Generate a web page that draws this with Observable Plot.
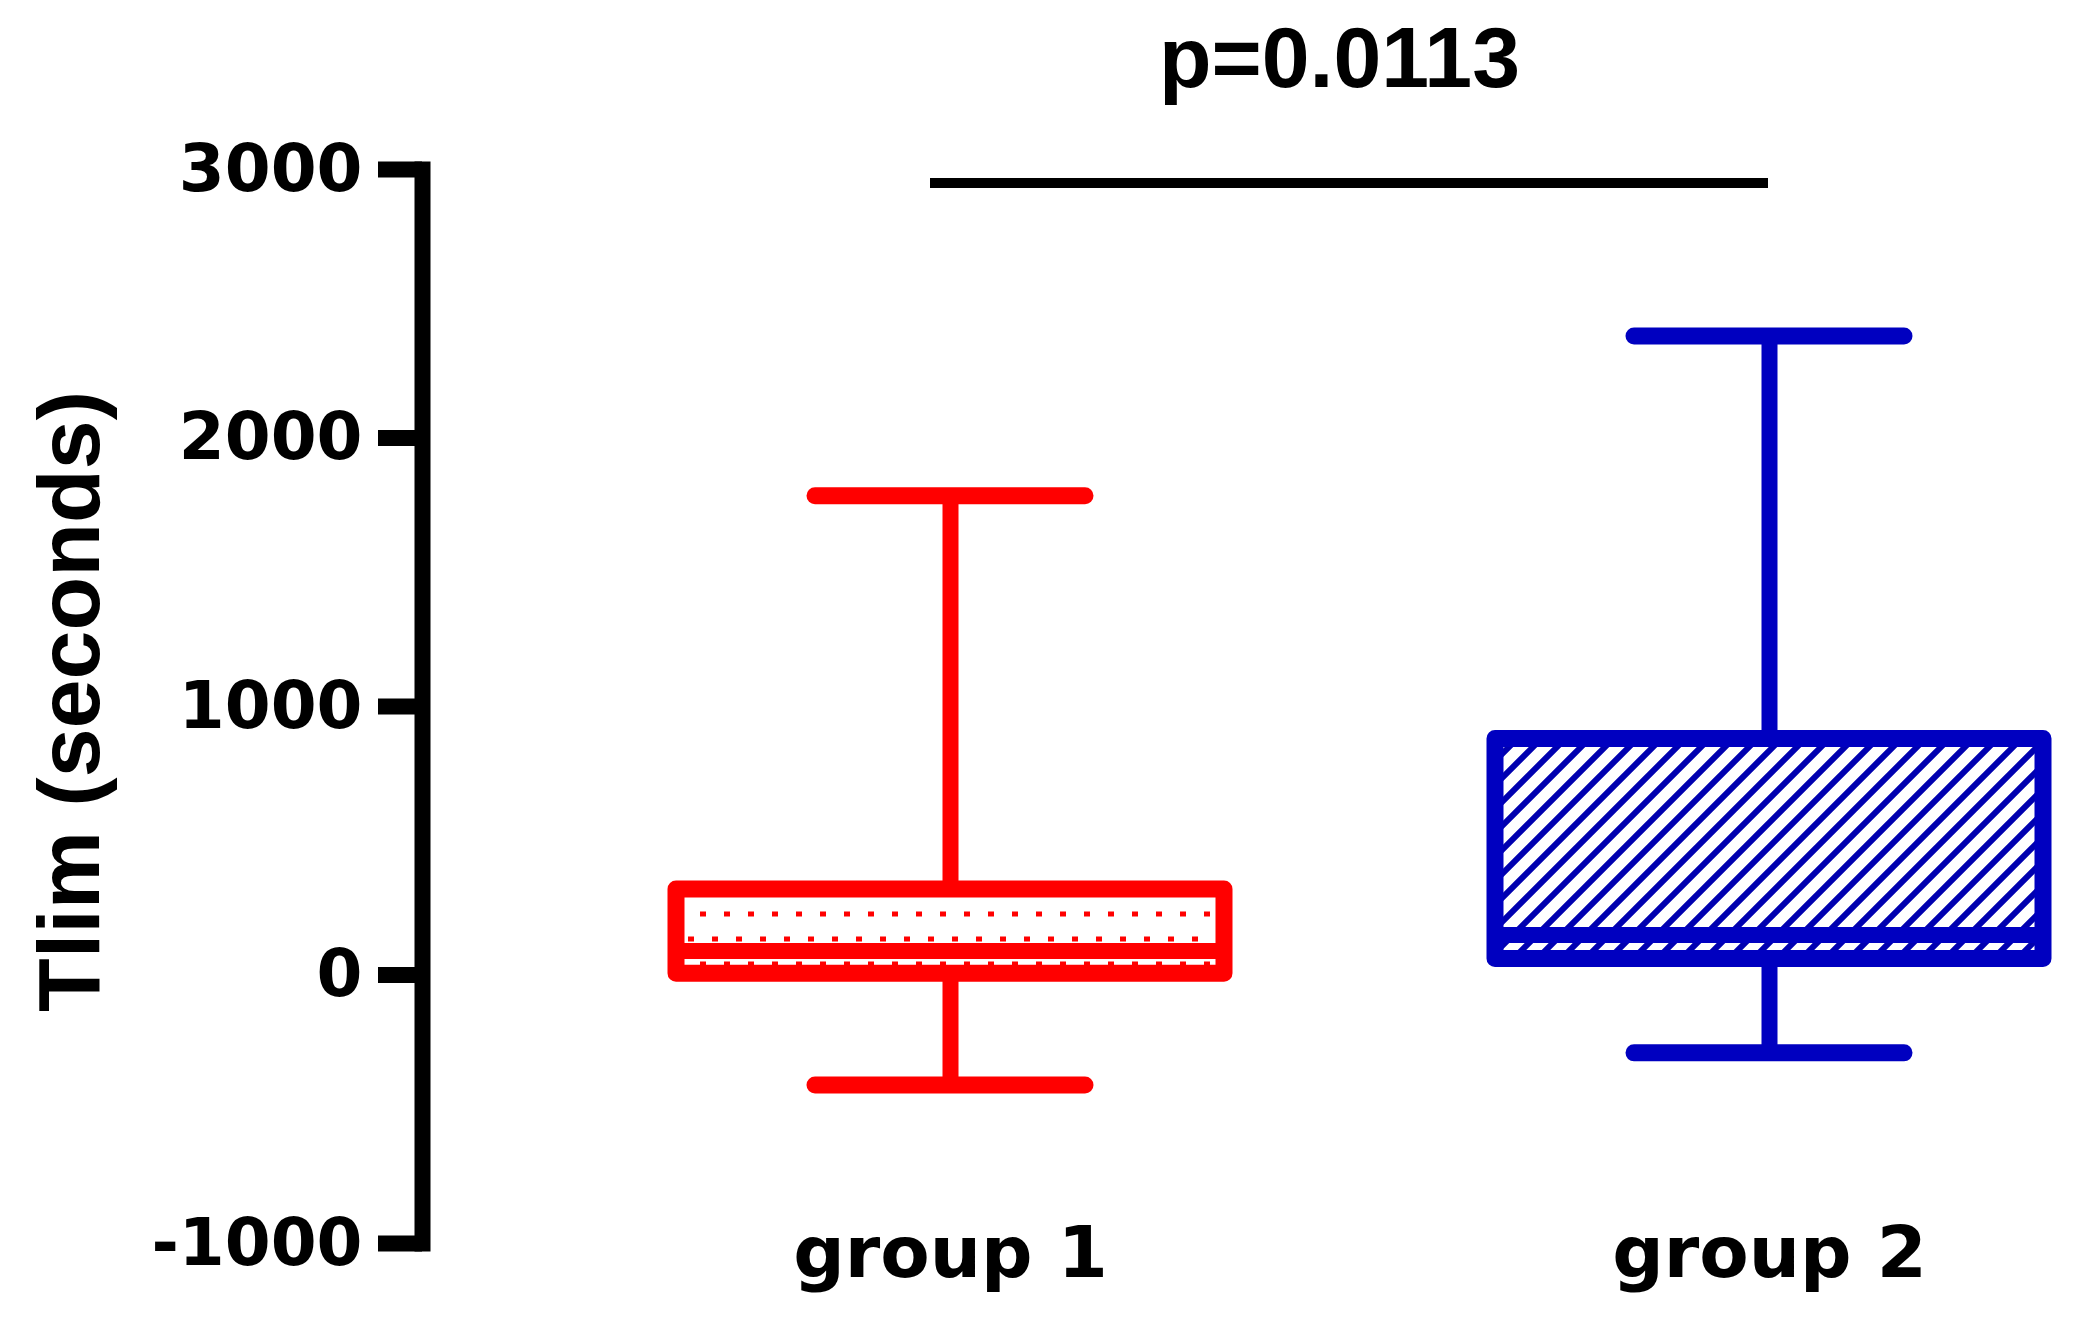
<!DOCTYPE html>
<html>
<head>
<meta charset="utf-8">
<script src="https://cdn.jsdelivr.net/npm/d3@7"></script>
<script src="https://cdn.jsdelivr.net/npm/@observablehq/plot@0.6"></script>
<style>
  html, body { margin: 0; padding: 0; background: #fff; overflow: hidden; }
  svg { display: block; }
</style>
</head>
<body>
<div id="chart"></div>
<script>
// ---- data ----
const groups = ["group 1", "group 2"];
const whiskerLow = [-410, -290];
const q1 = [5, 60];
const median = [89, 149];
const q3 = [318, 879];
const whiskerHigh = [1785, 2380];
const yTicks = [-1000, 0, 1000, 2000, 3000];
const yLabel = "Tlim (seconds)";
const pLabel = "p=0.0113";
const sigLevel = 2950;

// ---- tables built from the arrays ----
const table = groups.map((g, i) => ({
  group: g, lo: whiskerLow[i], q1: q1[i], med: median[i], q3: q3[i], hi: whiskerHigh[i]
}));
const sig = [{from: groups[0], to: groups[1], y: sigLevel, label: pLabel}];

const red = "#ff0000", blue = "#0000c0";

const chart = Plot.plot({
  width: 2084,
  height: 1325,
  marginLeft: 422,
  marginRight: 0,
  marginTop: 169,
  marginBottom: 82,
  style: {background: "white", fontFamily: "DejaVu Sans", color: "black"},
  x: {domain: groups, paddingInner: 0.331, paddingOuter: 0.18, align: 0.861},
  y: {domain: [-1000, 3000]},
  color: {domain: groups, range: [red, blue]},
  marks: [
    Plot.frame({anchor: "left", strokeWidth: 16, strokeLinecap: "square"}),
    Plot.axisY({
      ticks: yTicks, tickFormat: d => String(d), tickSize: 44, tickPadding: 16,
      strokeWidth: 16, fontSize: 66, fontWeight: "bold", fontFamily: "DejaVu Sans", label: null
    }),
    Plot.axisX({
      tickSize: 0, tickPadding: -18, fontSize: 72, fontWeight: "bold",
      fontFamily: "DejaVu Sans", label: null
    }),
    // whisker stems
    Plot.ruleX(table, {x: "group", y1: "lo", y2: "hi", stroke: "group", strokeWidth: 16}),
    // whisker caps
    Plot.tickY(table, {x: "group", y: "lo", stroke: "group", strokeWidth: 17, strokeLinecap: "round", insetLeft: 139, insetRight: 139}),
    Plot.tickY(table, {x: "group", y: "hi", stroke: "group", strokeWidth: 17, strokeLinecap: "round", insetLeft: 139, insetRight: 139}),
    // boxes
    Plot.barY(table.filter(d => d.group === groups[0]), {
      x: "group", y1: "q1", y2: "q3", fill: "url(#dots)", stroke: "group",
      strokeWidth: 17, strokeLinejoin: "round"
    }),
    Plot.barY(table.filter(d => d.group === groups[1]), {
      x: "group", y1: "q1", y2: "q3", fill: "url(#hatch)", stroke: "group",
      strokeWidth: 17, strokeLinejoin: "round"
    }),
    // medians
    Plot.tickY(table, {x: "group", y: "med", stroke: "group", strokeWidth: 16}),
    // significance bar
    Plot.ruleY(sig, {y: "y", x1: "from", x2: "to", stroke: "black", strokeWidth: 10, insetLeft: 254, insetRight: 275}),
    Plot.text(sig, {
      text: "label", frameAnchor: "top", textAnchor: "middle", dx: 86, dy: -144, fontSize: 86,
      fontWeight: "bold", fontFamily: "Liberation Sans", fill: "black"
    }),
    // y label
    Plot.text([yLabel], {
      text: d => d, frameAnchor: "left", textAnchor: "middle", lineAnchor: "middle",
      rotate: -90, dx: -352, dy: -5, fontSize: 88,
      fontWeight: "bold", fontFamily: "Liberation Sans", fill: "black"
    })
  ]
});

// pattern fills
const defs = d3.select(chart).insert("defs", ":first-child");
const dots = defs.append("pattern").attr("id", "dots").attr("patternUnits", "userSpaceOnUse")
  .attr("width", 24).attr("height", 50);
dots.append("rect").attr("width", 24).attr("height", 50).attr("fill", "white");
dots.append("rect").attr("x", 4).attr("y", 11.5).attr("width", 6).attr("height", 5).attr("fill", red);
dots.append("rect").attr("x", 16).attr("y", 36.5).attr("width", 6).attr("height", 5).attr("fill", red);

const hatch = defs.append("pattern").attr("id", "hatch").attr("patternUnits", "userSpaceOnUse")
  .attr("width", 24).attr("height", 24);
hatch.append("rect").attr("width", 24).attr("height", 24).attr("fill", "white");
hatch.append("path").attr("d", "M0,24L24,0M-6,6L6,-6M18,30L30,18")
  .attr("stroke", "#0000b0").attr("stroke-width", 6).attr("fill", "none");

document.getElementById("chart").appendChild(chart);
</script>
</body>
</html>
